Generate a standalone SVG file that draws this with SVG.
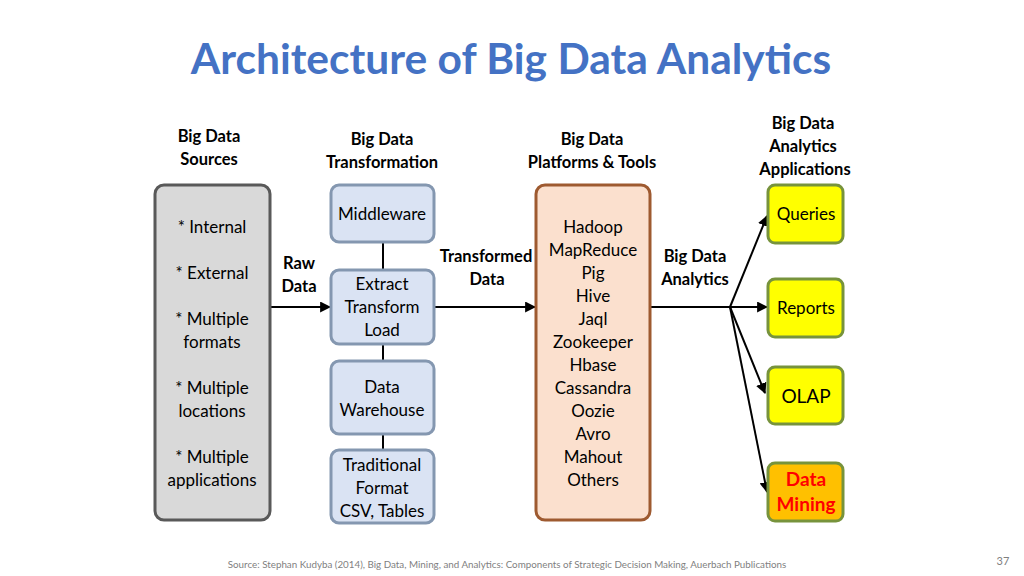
<svg xmlns="http://www.w3.org/2000/svg" width="1024" height="576" viewBox="0 0 1024 576">
<defs>
<marker id="ah" viewBox="0 0 10 10" refX="9" refY="5" markerWidth="5.5" markerHeight="5.5" orient="auto" markerUnits="strokeWidth">
<path d="M0,0 L10,5 L0,10 Z" fill="#000"/>
</marker>
<style>
text{font-family:Lato,"Liberation Sans",sans-serif;text-anchor:middle;fill:#000}
.t{font-size:17px}
.h{font-size:16.5px;font-weight:bold}
.src{fill:#d9d9d9;stroke:#595959;stroke-width:3}
.tr{fill:#dae3f3;stroke:#8497b0;stroke-width:3}
.pl{fill:#fbe0ce;stroke:#9e5a30;stroke-width:3}
.ap{fill:#ffff00;stroke:#77933c;stroke-width:3}
.dm{fill:#ffc000;stroke:#77933c;stroke-width:3}
.c{stroke:#000;stroke-width:2;fill:none}
</style>
</defs>
<rect width="1024" height="576" fill="#fff"/>
<text x="511" y="74" style="font-size:42.5px;font-weight:bold;fill:#4472c4">Architecture of Big Data Analytics</text>

<g id="headers">
<text class="h" x="209" y="142">Big Data</text>
<text class="h" x="209" y="165">Sources</text>
<text class="h" x="382" y="145">Big Data</text>
<text class="h" x="382" y="168">Transformation</text>
<text class="h" x="592" y="145">Big Data</text>
<text class="h" x="592" y="168">Platforms &amp; Tools</text>
<text class="h" x="803" y="129">Big Data</text>
<text class="h" x="803" y="152">Analytics</text>
<text class="h" x="805" y="175">Applications</text>
</g>

<g id="connectors">
<line class="c" x1="383" y1="242" x2="383" y2="270"/>
<line class="c" x1="383" y1="344" x2="383" y2="361"/>
<line class="c" x1="383" y1="434" x2="383" y2="450"/>
<line class="c" x1="270" y1="307" x2="330" y2="307" marker-end="url(#ah)"/>
<line class="c" x1="434" y1="307" x2="535" y2="307" marker-end="url(#ah)"/>
<line class="c" x1="650" y1="307" x2="730" y2="307"/>
<line class="c" x1="730" y1="307" x2="767" y2="216" marker-end="url(#ah)"/>
<line class="c" x1="730" y1="307" x2="767" y2="307" marker-end="url(#ah)"/>
<line class="c" x1="730" y1="307" x2="765" y2="393" marker-end="url(#ah)"/>
<line class="c" x1="730" y1="307" x2="767" y2="492" marker-end="url(#ah)"/>
<text class="h" x="299" y="269">Raw</text>
<text class="h" x="299" y="292">Data</text>
<text class="h" x="486" y="262">Transformed</text>
<text class="h" x="487" y="285">Data</text>
<text class="h" x="695" y="262">Big Data</text>
<text class="h" x="695" y="285">Analytics</text>
</g>

<g id="sources">
<rect class="src" x="155" y="185" width="115" height="335" rx="9"/>
<text class="t" x="212" y="233">* Internal</text>
<text class="t" x="212" y="279">* External</text>
<text class="t" x="212" y="325">* Multiple</text>
<text class="t" x="212" y="348">formats</text>
<text class="t" x="212" y="394">* Multiple</text>
<text class="t" x="212" y="417">locations</text>
<text class="t" x="212" y="463">* Multiple</text>
<text class="t" x="212" y="486">applications</text>
</g>

<g id="middleware">
<rect class="tr" x="331" y="185" width="103" height="57" rx="8"/>
<text class="t" x="382" y="220">Middleware</text>
</g>
<g id="etl">
<rect class="tr" x="331" y="270" width="103" height="74" rx="8"/>
<text class="t" x="382" y="290">Extract</text>
<text class="t" x="382" y="313">Transform</text>
<text class="t" x="382" y="336">Load</text>
</g>
<g id="warehouse">
<rect class="tr" x="331" y="361" width="103" height="73" rx="8"/>
<text class="t" x="382" y="393">Data</text>
<text class="t" x="382" y="416">Warehouse</text>
</g>
<g id="traditional">
<rect class="tr" x="331" y="450" width="103" height="73" rx="8"/>
<text class="t" x="382" y="471">Traditional</text>
<text class="t" x="382" y="494">Format</text>
<text class="t" x="382" y="517">CSV, Tables</text>
</g>

<g id="platforms">
<rect class="pl" x="536" y="185" width="114" height="335" rx="9"/>
<text class="t" x="593" y="233">Hadoop</text>
<text class="t" x="593" y="256">MapReduce</text>
<text class="t" x="593" y="279">Pig</text>
<text class="t" x="593" y="302">Hive</text>
<text class="t" x="593" y="325">Jaql</text>
<text class="t" x="593" y="348">Zookeeper</text>
<text class="t" x="593" y="371">Hbase</text>
<text class="t" x="593" y="394">Cassandra</text>
<text class="t" x="593" y="417">Oozie</text>
<text class="t" x="593" y="440">Avro</text>
<text class="t" x="593" y="463">Mahout</text>
<text class="t" x="593" y="486">Others</text>
</g>

<g id="queries">
<rect class="ap" x="768" y="185" width="75" height="58" rx="7"/>
<text class="t" x="806" y="220">Queries</text>
</g>
<g id="reports">
<rect class="ap" x="768" y="279" width="75" height="58" rx="7"/>
<text class="t" x="806" y="314">Reports</text>
</g>
<g id="olap">
<rect class="ap" x="768" y="367" width="75" height="57" rx="7"/>
<text x="806" y="403" style="font-size:19px">OLAP</text>
</g>
<g id="datamining">
<rect class="dm" x="768" y="463" width="75" height="58" rx="7"/>
<text x="806" y="486" style="font-size:19px;font-weight:bold;fill:#ff0000">Data</text>
<text x="806" y="511" style="font-size:19px;font-weight:bold;fill:#ff0000">Mining</text>
</g>

<text x="507" y="568" style="font-size:9.8px;fill:#7f7f7f">Source: Stephan Kudyba (2014), Big Data, Mining, and Analytics: Components of Strategic Decision Making, Auerbach Publications</text>
<text x="1003" y="565" style="font-size:11px;fill:#7f7f7f">37</text>
</svg>
